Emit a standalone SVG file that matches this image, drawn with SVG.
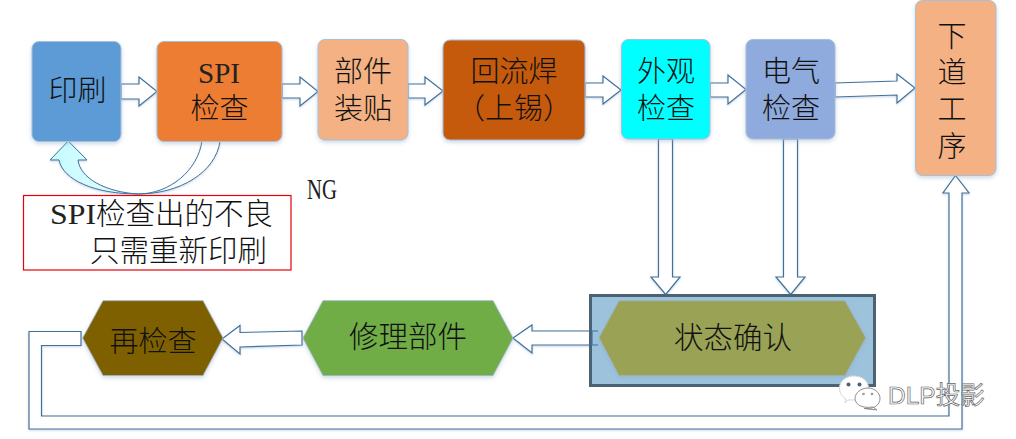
<svg xmlns="http://www.w3.org/2000/svg" width="1016" height="439" viewBox="0 0 1016 439">
<style>
text{font-family:"Liberation Serif","Noto Sans CJK SC",serif;font-weight:300;font-size:29px;fill:#111;text-anchor:middle}
.l{font-weight:400;fill:#222}
.box{stroke:#a9bfd6;stroke-width:1;filter:url(#sh)}
.hex{stroke:#9fb4c8;stroke-width:.8;filter:url(#sh)}
.ar{fill:#fff;stroke:#41719c;stroke-width:1.2;stroke-linejoin:miter}
#conn{filter:url(#sh2)}
</style>
<defs>
<filter id="sh" x="-10%" y="-10%" width="120%" height="125%"><feDropShadow dx="0" dy="2" stdDeviation="2" flood-color="#8fa9c8" flood-opacity=".45"/></filter>
<filter id="sh2" x="-5%" y="-5%" width="110%" height="110%"><feDropShadow dx="0" dy="1" stdDeviation="1" flood-color="#8fa9c8" flood-opacity=".5"/></filter>
<linearGradient id="cy" gradientUnits="userSpaceOnUse" x1="50" y1="141" x2="190" y2="190"><stop offset="0" stop-color="#c4fcff"/><stop offset=".55" stop-color="#dffcff"/><stop offset="1" stop-color="#fff"/></linearGradient>
</defs>

<g id="conn">
<path class="ar" d="M121,84H139V77L157,91.5L139,106V99H121Z"/>
<path class="ar" d="M282,84H300V77L318,91.500L300,106V98H282Z"/>
<path class="ar" d="M408,84H425V77L443,91L425,105V98H408Z"/>
<path class="ar" d="M585,83H603V76L621,90L603,104V97H585Z"/>
<path class="ar" d="M710,83H728V75L746,89.500L728,104V97H710Z"/>
<path class="ar" d="M835,83L897,81V74L915,88L897,103V95L835,97Z"/>
<path class="ar" d="M658.500,139V277H651L665.700,294.500L680,277H672.500V139Z"/>
<path class="ar" d="M783.500,139V277H776L790.700,294.500L805,277H797.500V139Z"/>
<path class="ar" d="M598,331H532V325L513,338L532,353V345H598Z"/>
<path class="ar" d="M302,331L240,332.500V325.500L222,339L240,354V347L302,345Z"/>
<path class="ar" d="M81,331.500H29V429H962V193H969L955.500,175.500L943,193H949V416H41.500V345.500H81Z"/>
<path d="M202,141C198,170 170,194 138,194C105,192 80,178 78,160H87L68.300,141L50,160H59C63,180 95,194 138,194C180,194 216,172 220,141Z" fill="url(#cy)" stroke="#41719c" stroke-width="1"/>
</g>

<g id="n1"><rect class="box" x="32" y="41.500" width="89" height="100" rx="7" fill="#5b9bd5"/><text x="77.500" y="101">印刷</text></g>
<g id="n2"><rect class="box" x="157" y="41.500" width="125" height="100" rx="7" fill="#ed7d31"/><text class="l" x="219" y="83" textLength="42" lengthAdjust="spacingAndGlyphs" style="font-size:30px">SPI</text><text x="219.500" y="119">检查</text></g>
<g id="n3"><rect class="box" x="318" y="39.500" width="90" height="100.500" rx="7" fill="#f4b183"/><text x="363" y="81.500">部件</text><text x="363" y="119">装贴</text></g>
<g id="n4"><rect class="box" x="443" y="40" width="142" height="100" rx="7" fill="#c55a11"/><text x="514" y="82">回流焊</text><text x="514" y="119">（上锡）</text></g>
<g id="n5"><rect class="box" x="621.500" y="39.500" width="88.500" height="99.500" rx="7" fill="#00ffff"/><text x="666" y="82">外观</text><text x="666" y="119">检查</text></g>
<g id="n6"><rect class="box" x="746" y="39.500" width="89" height="99.500" rx="7" fill="#8faadc"/><text x="791" y="82">电气</text><text x="791" y="119">检查</text></g>
<g id="n7"><rect class="box" x="915.500" y="0.500" width="80.500" height="175" rx="7" fill="#f4b183"/><text x="952" y="47">下</text><text x="952" y="83">道</text><text x="952" y="120">工</text><text x="952" y="157">序</text></g>

<g id="n8"><path class="hex" d="M82.700,338L103,300.700H203L223,338L203,375.500H103Z" fill="#7f6000"/><text x="153" y="352">再检查</text></g>
<g id="n9"><path class="hex" d="M303,338L323,300.700H493L513,338L493,375.500H323Z" fill="#70ad47"/><text x="408" y="347" style="font-size:29.500px">修理部件</text></g>
<g id="n10"><rect x="590.500" y="295.500" width="284" height="90" fill="#9cc2dc" stroke="#4b6273" stroke-width="3"/><path class="hex" d="M599,337.700L619,300.700H845L865.700,337.700L845,375.700H619Z" fill="#9aa354"/><text x="733" y="348" style="font-size:29.500px">状态确认</text></g>
<path d="M598,331H592V345H598" fill="none" stroke="#41719c" stroke-width="1.200"/>

<g id="n11"><rect x="23.500" y="195.500" width="267.500" height="74.500" fill="#fff" stroke="#e8000d" stroke-width="1.200"/><text x="50" y="224" style="font-size:29.500px;text-anchor:start"><tspan class="l" textLength="46" lengthAdjust="spacingAndGlyphs">SPI</tspan>检查出的不良</text><text x="90" y="261" style="font-size:29.500px;text-anchor:start">只需重新印刷</text></g>
<text id="ng" class="l" x="307" y="199" style="text-anchor:start" textLength="30" lengthAdjust="spacingAndGlyphs">NG</text>

<g id="wm">
<path d="M854,376C862,376 868.500,381 868.500,388C868.500,395 862,400 854,400L848,400L845,403L845.500,398.500C841,396 839.500,392 839.500,388C839.500,381 846,376 854,376Z" fill="#fff" stroke="#d8d8d8" stroke-width="1"/>
<circle cx="848.500" cy="384.500" r="2" fill="#4b6273"/><circle cx="859.500" cy="384.500" r="2" fill="#4b6273"/>
<path d="M868,388C875,388 880,393 880,398.500C880,404 875,408.500 868,408.500L864,408.500L877,410L873,407C860,409 855,403 855,398.500C855,393 861,388 868,388Z" fill="#fff" stroke="#8c8c8c" stroke-width="1"/>
<circle cx="863.500" cy="394" r="1.300" fill="#999"/><circle cx="872" cy="394" r="1.300" fill="#999"/>
<text x="888" y="404" style="font-family:'Liberation Sans','Noto Sans CJK SC',sans-serif;font-size:24.500px;text-anchor:start;fill:#fff;stroke:#666;stroke-width:.7;font-weight:400">DLP投影</text>
</g>
</svg>
